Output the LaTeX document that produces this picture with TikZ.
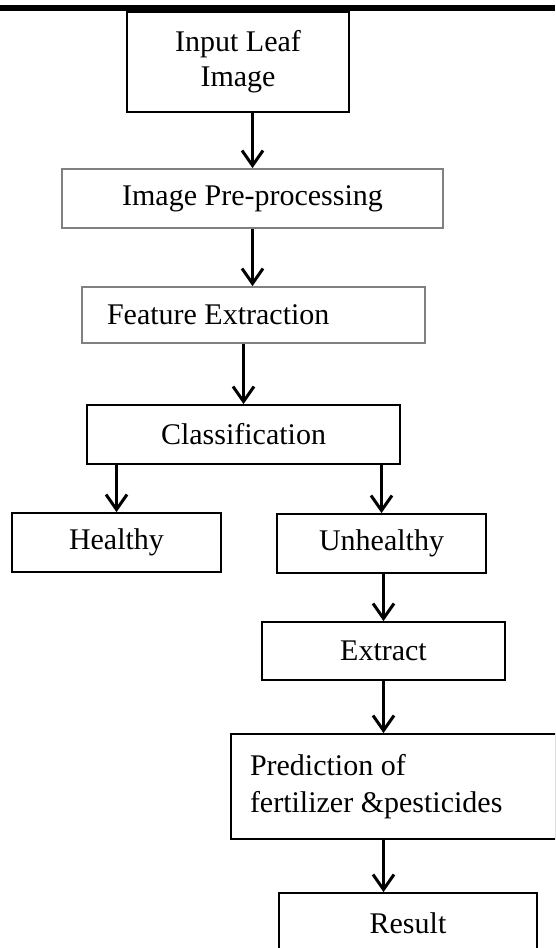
\documentclass[tikz,border=0pt]{standalone}
\usepackage{fontspec}
\setmainfont{Liberation Serif}
\usepackage{xcolor}
\usepackage{tikz}
\usetikzlibrary{arrows.meta, positioning, shapes}
\definecolor{boxgray}{RGB}{128, 128, 128}

\begin{document}
\begin{tikzpicture}[
    x=1pt, y=-1pt,
    box/.style={rectangle, draw, line width=1.8pt, inner sep=0pt, font=\fontsize{30}{35}\selectfont, align=center},
    graybox/.style={box, draw=boxgray},
    arrow/.style={-{Straight Barb[length=15pt, width=21pt]}, line width=3pt}
]
    \useasboundingbox (0, 0) rectangle (555, 948);
    \clip (0, 0) rectangle (555, 948);

    % top rule
    \draw[line width=6pt] (0, 8) -- (555, 8);

    % Column 1: pre-processing
    \node[box, minimum width=222pt, minimum height=100pt] (input) at (238, 62) {Input Leaf\\Image};
    \node[graybox, minimum width=381pt, minimum height=59pt] (prep) at (252.5, 198.5) {Image Pre-processing};
    \node[graybox, minimum width=343pt, minimum height=56pt, text width=293pt, inner xsep=25pt, align=flush left] (feat) at (253.5, 315) {Feature Extraction};
    \node[box, minimum width=313pt, minimum height=59pt] (cls) at (243.5, 434.5) {Classification};

    % Row 2: classes
    \node[box, minimum width=209pt, minimum height=59pt] (healthy) at (116.5, 542.5) {Healthy};
    \node[box, minimum width=209pt, minimum height=59pt] (unhealthy) at (381.5, 543.5) {Unhealthy};

    % Column 2: unhealthy branch
    \node[box, minimum width=243pt, minimum height=58pt] (extract) at (383.5, 651) {Extract};
    \node[box, minimum width=325pt, minimum height=105pt, text width=287pt, inner xsep=19pt, align=flush left,
          font=\fontsize{30}{37}\selectfont] (pred) at (393.5, 786.5) {Prediction of\\fertilizer \&pesticides};
    \node[box, minimum width=258pt, minimum height=60pt] (result) at (408, 923) {Result};

    % Arrows
    \draw[arrow] (input.south -| prep.north) -- (prep.north);
    \draw[arrow] (prep.south) -- (prep.south |- feat.north);
    \draw[arrow] (feat.south -| cls.north) -- (cls.north);
    \draw[arrow] (cls.south -| healthy.north) -- (healthy.north);
    \draw[arrow] (cls.south -| unhealthy.north) -- (unhealthy.north);
    \draw[arrow] (unhealthy.south -| extract.north) -- (extract.north);
    \draw[arrow] (extract.south) -- (extract.south |- pred.north);
    \draw[arrow] (extract.south |- pred.south) -- (extract.south |- result.north);
\end{tikzpicture}
\end{document}
